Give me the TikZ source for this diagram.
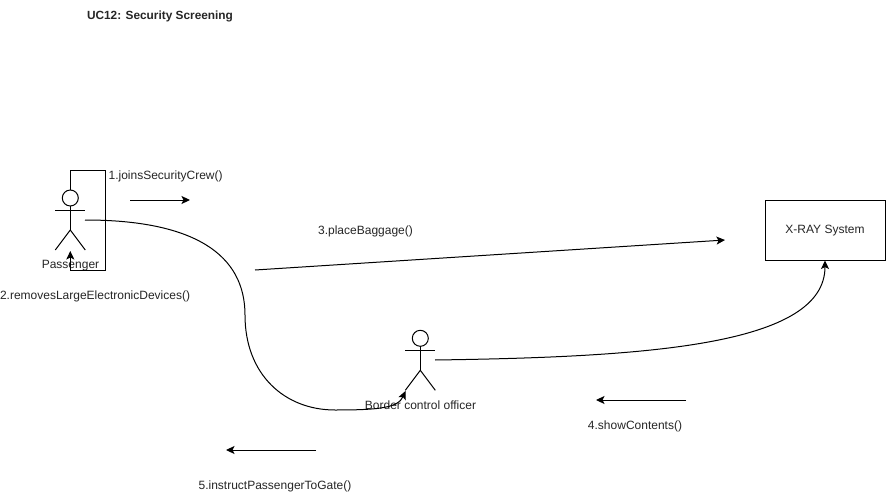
\documentclass[tikz,border=0pt]{standalone}
\usepackage{fontspec}
\setmainfont{Liberation Sans}
\usetikzlibrary{arrows.meta}
\tikzset{
  lbl/.style={inner sep=0pt,outer sep=0pt,font=\fontsize{12}{14}\selectfont,text=black!85},
  conn/.style={line width=1pt,-{Stealth[length=8.5pt,width=8pt,inset=2pt]}},
  stick/.style={line width=1pt}
}
\newcommand{\stickman}[2]{%
  \draw[stick] (#1,#2) circle (8);
  \draw[stick] (#1,#2+8) -- (#1,#2+32);
  \draw[stick] (#1-15,#2+12.5) -- (#1+15,#2+12.5);
  \draw[stick] (#1-15,#2+52) -- (#1,#2+32) -- (#1+15,#2+52);
}
\begin{document}
\begin{tikzpicture}[x=1pt,y=-1pt]
\useasboundingbox (0,0) rectangle (886,500);
\fill[white] (0,0) rectangle (886,500);
\node[lbl,anchor=west,font=\fontsize{11.85}{14}\selectfont\bfseries] (title) at (87,16.2) {UC12: Security Screening};
% actors
\stickman{70.3}{198}
\stickman{420.3}{338.3}
\node[lbl,anchor=center] (passenger) at (70.5,265.5) {Passenger};
\node[lbl,anchor=center] (officer) at (420.5,405.5) {Border control officer};
\node[draw=black,line width=1pt,minimum width=120pt,minimum height=60pt,inner sep=0pt,lbl] (xray) at (825,230.5) {X-RAY System};
% named ends
\coordinate (pTop) at (70.3,190);
\coordinate (pFeet) at (70.3,251);
\coordinate (pHand) at (85,220);
\coordinate (oFeet) at (405.5,391);
\coordinate (oHand) at (435,360);
\coordinate (a1s) at (130,200); \coordinate (a1e) at (190,200);
\coordinate (a3s) at (255,270); \coordinate (a3e) at (725,240);
\coordinate (a4s) at (686,400); \coordinate (a4e) at (596,400);
\coordinate (a5s) at (316,450); \coordinate (a5e) at (226,450);
% connectors
\draw[conn] (pTop) -- (70.3,170) -- (105,170) -- (105,270) -- (70.3,270) -- (pFeet);
\draw[conn] (pHand) .. controls (195,220) and (245,255) .. (245,315)
  .. controls (245,375) and (285,410) .. (335,410)
  .. controls (378,410) and (398,408) .. (oFeet);
\draw[conn] (oHand) .. controls (650,357) and (825,345) .. (xray.south);
\draw[conn] (a1s) -- (a1e);
\draw[conn] (a3s) -- (a3e);
\draw[conn] (a4s) -- (a4e);
\draw[conn] (a5s) -- (a5e);
% labels
\node[lbl,anchor=west] (l1) at (108.6,176) {1.joinsSecurityCrew()};
\node[lbl,anchor=west] (l2) at (0,296) {2.removesLargeElectronicDevices()};
\node[lbl,anchor=center] (l3) at (365.5,231) {3.placeBaggage()};
\node[lbl,anchor=center] (l4) at (635,426) {4.showContents()};
\node[lbl,anchor=center] (l5) at (275,486) {5.instructPassengerToGate()};
\end{tikzpicture}
\end{document}
